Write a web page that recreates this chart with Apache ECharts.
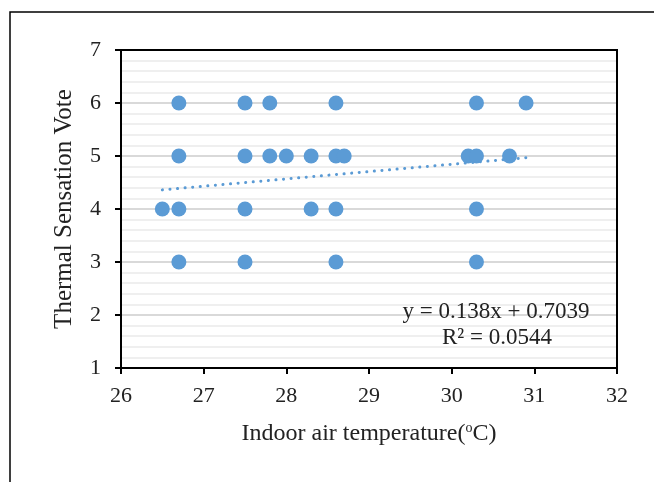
<!DOCTYPE html>
<html>
<head>
<meta charset="utf-8">
<script src="https://cdn.jsdelivr.net/npm/echarts@6/dist/echarts.min.js"></script>
<style>
  html, body { margin: 0; padding: 0; background: #fff; }
  #main { width: 654px; height: 482px; }
</style>
</head>
<body>
<div id="main"></div>
<script>
// votes by indoor temperature
var tempX = [26.7, 27.5, 27.8, 28.6, 30.3, 30.9,
             26.7, 27.5, 27.8, 28.0, 28.3, 28.6, 28.7, 30.2, 30.3, 30.7,
             26.5, 26.7, 27.5, 28.3, 28.6, 30.3,
             26.7, 27.5, 28.6, 30.3];
var voteY = [6, 6, 6, 6, 6, 6,
             5, 5, 5, 5, 5, 5, 5, 5, 5, 5,
             4, 4, 4, 4, 4, 4,
             3, 3, 3, 3];
// linear trendline shown in the chart
var slope = 0.138;
var intercept = 0.7039;
var trendX = [26.5, 30.9];
var eqText = ['y = 0.138x + 0.7039', 'R² = 0.0544'];

var points = tempX.map(function (x, i) { return [x, voteY[i]]; });
var trend = trendX.map(function (x) { return [x, slope * x + intercept]; });

var serif = '"Liberation Serif", "Times New Roman", serif';
var myChart = echarts.init(document.getElementById('main'));
myChart.setOption({
    animation: false,
    grid: {
        left: 121, top: 50, right: 37, bottom: 114,
        show: true, borderColor: '#000', borderWidth: 2, z: 3
    },
    xAxis: {
        type: 'value', min: 26, max: 32, interval: 1,
        name: '{t|Indoor air temperature(}{s|o}{t|C)}',
        nameLocation: 'middle', nameGap: 53,
        nameTextStyle: {
            fontFamily: serif, fontSize: 24, color: '#222',
            rich: {
                t: { fontFamily: serif, fontSize: 24, color: '#222' },
                s: { fontFamily: serif, fontSize: 14, color: '#222', padding: [0, 0, 12, 0] }
            }
        },
        axisLine: { lineStyle: { color: '#000', width: 2 } },
        axisTick: { length: 6, lineStyle: { color: '#000', width: 2 } },
        axisLabel: { fontFamily: serif, fontSize: 22, color: '#222', margin: 17 },
        splitLine: { show: false }
    },
    yAxis: {
        type: 'value', min: 1, max: 7, interval: 1,
        name: 'Thermal Sensation Vote',
        nameLocation: 'middle', nameGap: 44,
        nameTextStyle: { fontFamily: serif, fontSize: 25, color: '#222' },
        axisLine: { show: true, lineStyle: { color: '#000', width: 2 } },
        axisTick: { show: true, length: 6, lineStyle: { color: '#000', width: 2 } },
        axisLabel: { fontFamily: serif, fontSize: 22, color: '#222', margin: 20 },
        splitLine: { lineStyle: { color: '#d9d9d9', width: 2 } },
        minorTick: { show: false, splitNumber: 5 },
        minorSplitLine: { show: true, lineStyle: { color: '#efefef', width: 2 } }
    },
    series: [{
        type: 'scatter',
        data: points,
        symbolSize: 15,
        itemStyle: { color: '#5b9bd5', opacity: 1 },
        z: 3
    }, {
        type: 'line',
        data: trend,
        symbol: 'none',
        lineStyle: { color: '#5b9bd5', width: 3, type: [0.1, 7.5], cap: 'round' },
        z: 4
    }],
    graphic: [{
        type: 'polyline',
        shape: { points: [[10, 482], [10, 12], [654, 12]] },
        style: { stroke: '#000', lineWidth: 1.5, fill: null }
    }, {
        type: 'text', x: 496, y: 312, z: 10,
        style: { text: eqText[0], font: '23px ' + serif, fill: '#222', align: 'center', verticalAlign: 'middle' }
    }, {
        type: 'text', x: 497, y: 338, z: 10,
        style: { text: eqText[1], font: '23px ' + serif, fill: '#222', align: 'center', verticalAlign: 'middle' }
    }]
});
</script>
</body>
</html>
